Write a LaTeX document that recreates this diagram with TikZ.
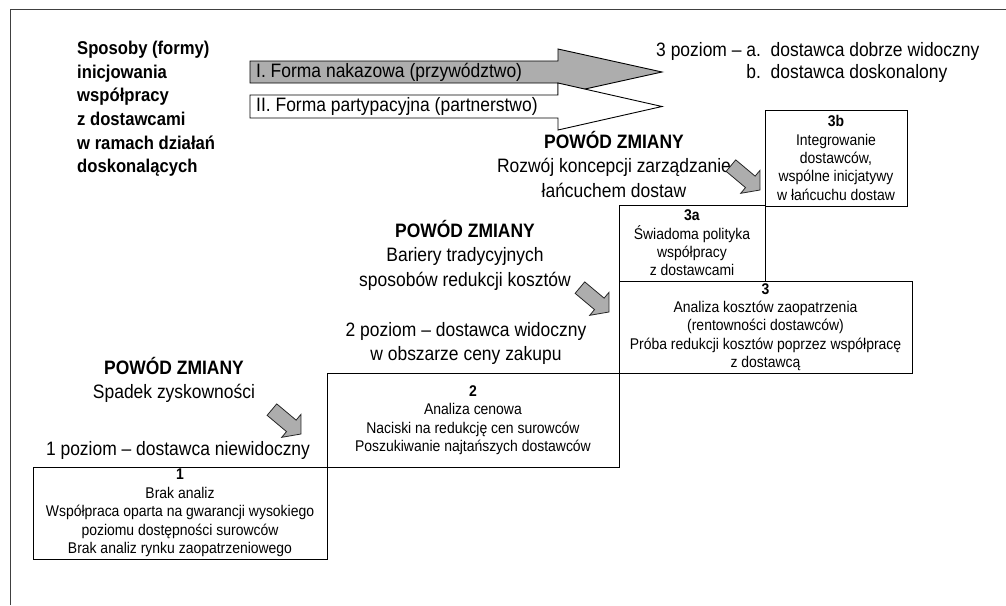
\documentclass[tikz,border=0pt]{standalone}
\usepackage{fontspec}
\setmainfont{Liberation Sans}[FakeStretch=0.9]
\begin{document}
\begin{tikzpicture}[x=1pt,y=-1pt,
  txt/.style={inner sep=0pt, align=center, font=\fontsize{19.4}{24.5}\selectfont},
  stage/.style={draw=black, line width=0.9pt, inner sep=0pt, align=center,
                font=\fontsize{15.5}{18.4}\selectfont},
  bigarrow/.style={draw=black, line width=0.9pt, line join=miter},
  shiftarrow/.style={draw=black!85, fill=black!32, line width=0.8pt, line join=miter},
  turn/.pic={\path[shiftarrow, rotate=-40, scale=1.15] (-33,6.5) -- (-11,6.5) -- (-11,13) -- (0,0)
              -- (-11,-13) -- (-11,-6.5) -- (-33,-6.5) -- cycle;}]
\useasboundingbox (0,0) rectangle (1006,605);
% outer frame
\draw[black!75, line width=1pt] (10,605) -- (10,9) -- (1006,9);

% heading on the left
\node[inner sep=0pt, align=left, anchor=west,
      font=\bfseries\fontsize{18.5}{23.6}\selectfont] (head) at (77,109)
  {Sposoby (formy)\\inicjowania\\współpracy\\z dostawcami\\w ramach działań\\doskonalących};

% the two forms as block arrows
\path[bigarrow, fill=black!32] (250,61) -- (558,61) -- (558,49) -- (662,72)
  -- (558,95) -- (558,83) -- (250,83) -- cycle;
\path[bigarrow, fill=white] (250,95) -- (558,95) -- (558,83) -- (662,106.5)
  -- (558,130) -- (558,118) -- (250,118) -- cycle;
\node[txt, anchor=west] (formI) at (256,72) {I. Forma nakazowa (przywództwo)};
\node[txt, anchor=west] (formII) at (256,106.5) {II. Forma partypacyjna (partnerstwo)};

% level 3 caption
\node[inner sep=0pt, anchor=west, font=\fontsize{19.4}{22}\selectfont] (lev3) at (656,63)
  {\begin{tabular}{@{}r@{\ }l@{\ \ }l@{}}
   3 poziom – & a. & dostawca dobrze widoczny\\
              & b. & dostawca doskonalony
   \end{tabular}};

% stages
\node[stage, minimum width=294pt, minimum height=92pt] (s1) at (180,513)
  {\textbf{1}\\Brak analiz\\Współpraca oparta na gwarancji wysokiego\\poziomu dostępności surowców\\Brak analiz rynku zaopatrzeniowego};
\node[stage, minimum width=292pt, minimum height=94pt] (s2) at (473,420)
  {\textbf{2}\\Analiza cenowa\\Naciski na redukcję cen surowców\\Poszukiwanie najtańszych dostawców};
\node[stage, minimum width=293pt, minimum height=92pt] (s3) at (765.5,327)
  {\textbf{3}\\Analiza kosztów zaopatrzenia\\(rentowności dostawców)\\Próba redukcji kosztów poprzez współpracę\\z dostawcą};
\node[stage, minimum width=146pt, minimum height=76pt] (s3a) at (692,243)
  {\textbf{3a}\\Świadoma polityka\\współpracy\\z dostawcami};
\node[stage, minimum width=142pt, minimum height=96pt] (s3b) at (836,158)
  {\textbf{3b}\\Integrowanie\\dostawców,\\wspólne inicjatywy\\w łańcuchu dostaw};

% level captions and reasons for change
\node[txt] (lev1) at (178,450) {1 poziom – dostawca niewidoczny};
\node[txt] (why1) at (174,380) {\textbf{POWÓD ZMIANY}\\Spadek zyskowności};
\node[txt] (lev2) at (466,343.5) {2 poziom – dostawca widoczny\\w obszarze ceny zakupu};
\node[txt] (why2) at (465,255) {\textbf{POWÓD ZMIANY}\\Bariery tradycyjnych\\sposobów redukcji kosztów};
\node[txt] (why3) at (614,164) {\textbf{POWÓD ZMIANY}\\Rozwój koncepcji zarządzanie\\łańcuchem dostaw};

% turning arrows
\pic (t1) at (301,434) {turn};
\pic (t2) at (609,312) {turn};
\pic (t3) at (760,190) {turn};
\end{tikzpicture}
\end{document}
